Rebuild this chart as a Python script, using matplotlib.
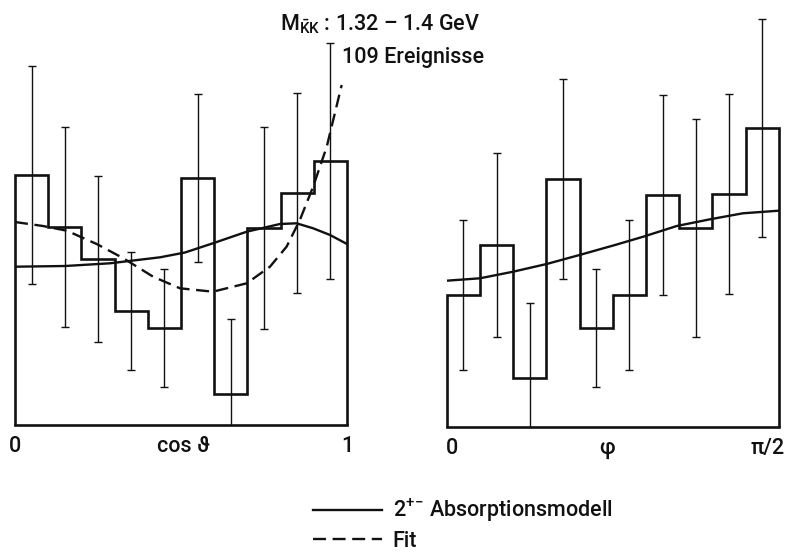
import numpy as np
import matplotlib.pyplot as plt

# histogram data (arbitrary units), 10 bins each
cos_counts = [25.0, 19.8, 16.6, 11.4, 9.7, 24.7, 3.1, 19.7, 23.2, 26.4]
cos_errors = [10.9, 10.0, 8.3, 5.9, 5.9, 8.4, 7.5, 10.1, 10.0, 11.8]
phi_counts = [13.2, 18.2, 4.9, 24.8, 9.9, 13.2, 23.2, 19.9, 23.3, 29.9]
phi_errors = [7.5, 9.2, 7.5, 10.0, 5.9, 7.5, 10.0, 10.9, 10.0, 10.9]

# absorption model curve (cos theta panel)
model_cos_x = [0.0, 0.151, 0.286, 0.437, 0.512, 0.596, 0.698, 0.798, 0.848, 0.898, 0.949, 1.0]
model_cos_y = [15.83, 15.9, 16.17, 16.77, 17.25, 18.17, 19.33, 20.1, 20.17, 19.67, 19.0, 18.1]

# fit curve (cos theta panel)
fit_cos_x = [0.0, 0.084, 0.156, 0.246, 0.325, 0.416, 0.497, 0.596, 0.698, 0.768,
             0.818, 0.858, 0.898, 0.939, 0.984]
fit_cos_y = [20.3, 19.9, 19.43, 18.1, 16.7, 14.83, 13.67, 13.33, 14.17, 15.83,
             17.83, 20.5, 23.83, 27.83, 34.0]

# absorption model curve (phi panel), x as fraction of pi/2
model_phi_x = [0.0, 0.1, 0.2, 0.301, 0.4, 0.507, 0.592, 0.693, 0.793, 0.892, 1.0]
model_phi_y = [14.6, 14.84, 15.5, 16.27, 17.17, 18.17, 19.0, 20.07, 20.74, 21.34, 21.6]

edges = np.linspace(0, 1, 11)
centers = (edges[:-1] + edges[1:]) / 2

plt.rcParams['font.family'] = ['Roboto', 'DejaVu Sans']
plt.rcParams['font.weight'] = 'medium'
plt.rcParams['mathtext.fontset'] = 'custom'
plt.rcParams['mathtext.rm'] = 'Roboto:medium'

W, H = 787, 554
fig = plt.figure(figsize=(W / 100, H / 100), dpi=100)

ink = '#111111'
fs = 15.5


def panel(rect, counts, errors, ticks, ticklabels):
    ax = fig.add_axes(rect)
    ax.stairs(counts, edges, baseline=0, color=ink, lw=1.9, clip_on=False)
    ax.errorbar(centers, counts, yerr=errors, fmt='none', ecolor=ink,
                elinewidth=1.0, capsize=3, capthick=1.0)
    ax.set_xlim(0, 1)
    ax.set_ylim(0, 42.5)
    for s in ['top', 'left', 'right']:
        ax.spines[s].set_visible(False)
    ax.spines['bottom'].set_linewidth(1.9)
    ax.spines['bottom'].set_color(ink)
    ax.set_yticks([])
    ax.set_xticks(ticks)
    ax.set_xticklabels(ticklabels, fontsize=fs, color=ink)
    ax.tick_params(axis='x', length=0, pad=8)
    return ax


ax1 = panel([15 / W, (H - 425) / H, 332 / W, 425 / H], cos_counts, cos_errors,
            [0, 0.506, 1], ['0', 'cos ϑ', '1'])
ax2 = panel([446.7 / W, (H - 426.7) / H, 332 / W, 425 / H], phi_counts, phi_errors,
            [0.016, 0.483, 0.965], ['0', 'φ', 'π/2'])

l_model, = ax1.plot(model_cos_x, model_cos_y, color=ink, lw=1.7)
l_fit, = ax1.plot(fit_cos_x, fit_cos_y, color=ink, lw=1.7, ls=(0, (5.5, 2.8)))
ax2.plot(model_phi_x, model_phi_y, color=ink, lw=1.7)

fig.text(280 / W, 1 - 30 / H, r'M$_{\mathrm{\bar{K}K}}$ : 1.32 – 1.4 GeV',
         fontsize=fs, color=ink, ha='left', va='baseline')
fig.text(342 / W, 1 - 63 / H, '109 Ereignisse',
         fontsize=fs, color=ink, ha='left', va='baseline')

fig.legend([l_model, l_fit], [r'2$^{+}$$^{-}$ Absorptionsmodell', 'Fit'],
           loc='upper left', bbox_to_anchor=(313 / W, 1 - 497 / H),
           frameon=False, fontsize=fs, handlelength=3.2, handletextpad=0.5,
           labelspacing=0.3, borderpad=0, borderaxespad=0, labelcolor=ink)

fig.savefig('out.png', dpi=100)
